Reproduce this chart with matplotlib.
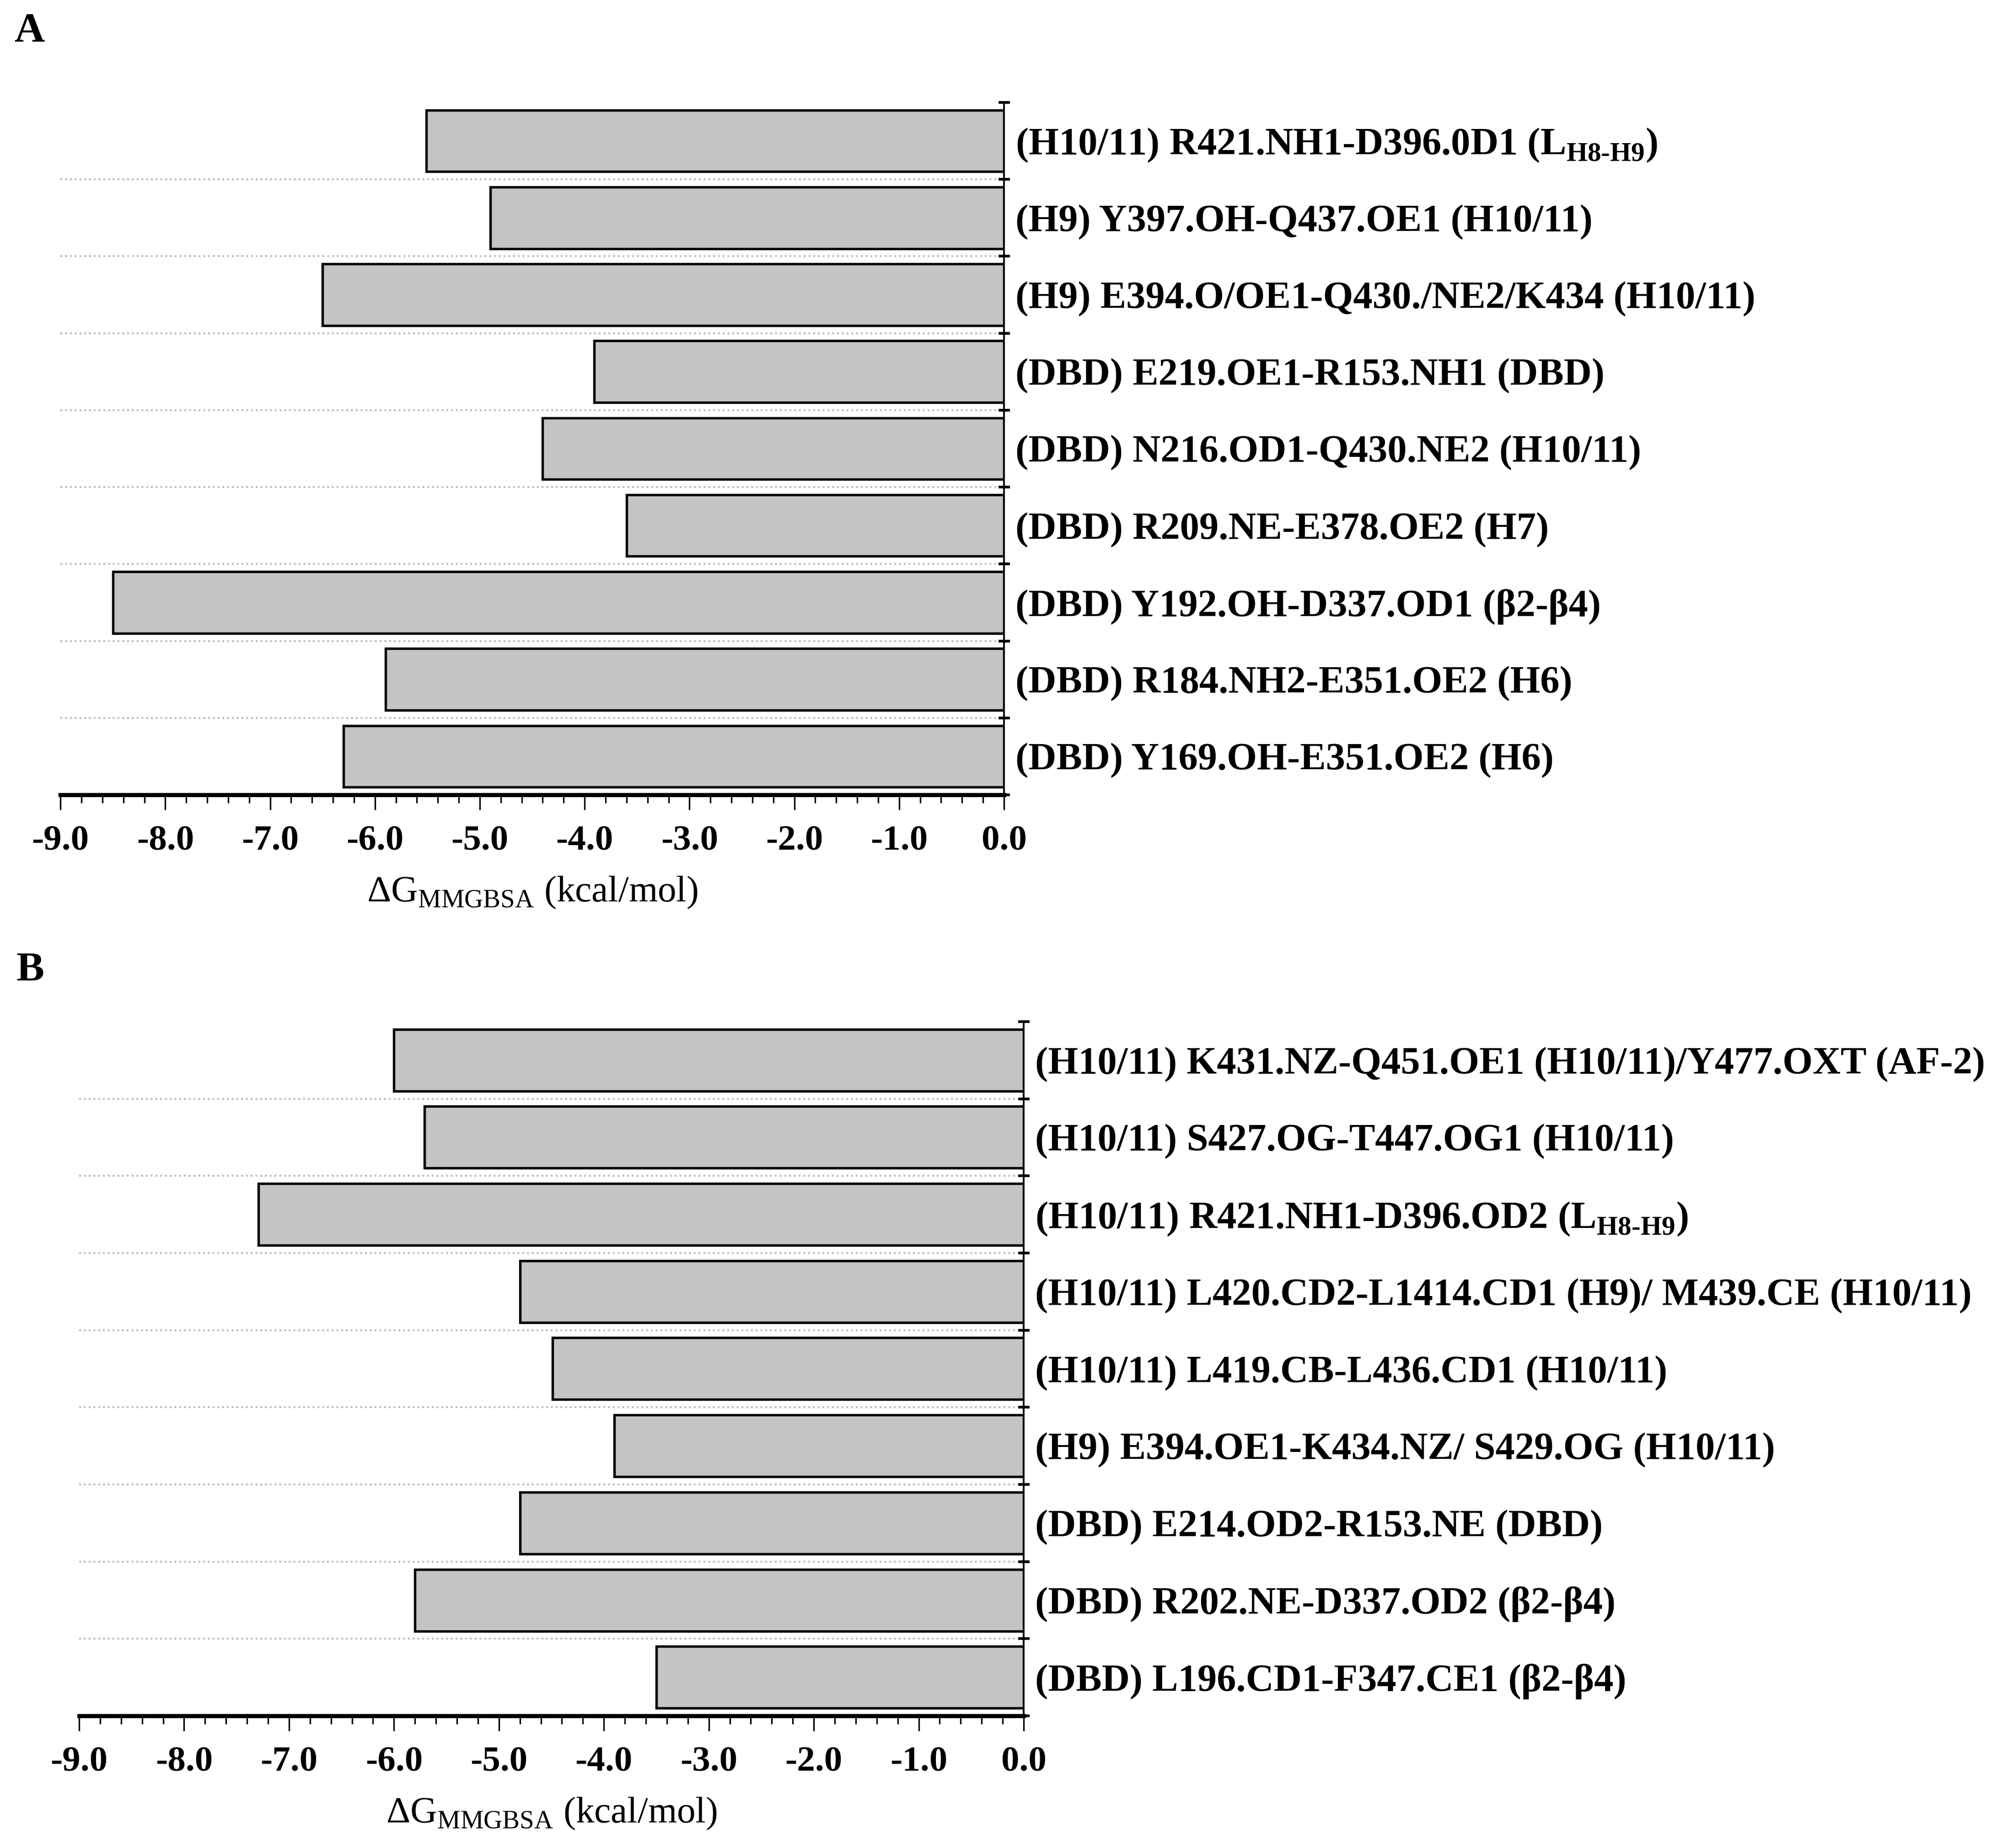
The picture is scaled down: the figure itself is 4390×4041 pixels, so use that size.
import matplotlib.pyplot as plt
import numpy as np
from matplotlib.ticker import MultipleLocator

plt.rcParams['font.family'] = 'Liberation Serif'
plt.rcParams['mathtext.fontset'] = 'custom'
plt.rcParams['mathtext.rm'] = 'Liberation Serif:bold'
plt.rcParams['mathtext.bf'] = 'Liberation Serif:bold'
plt.rcParams['mathtext.sf'] = 'Liberation Serif'

# panel A, top to bottom
labels_a = [
    "(H10/11) R421.NH1-D396.0D1 (L$_{\\text{H8-H9}}$)",
    "(H9) Y397.OH-Q437.OE1 (H10/11)",
    "(H9) E394.O/OE1-Q430./NE2/K434 (H10/11)",
    "(DBD) E219.OE1-R153.NH1 (DBD)",
    "(DBD) N216.OD1-Q430.NE2 (H10/11)",
    "(DBD) R209.NE-E378.OE2 (H7)",
    "(DBD) Y192.OH-D337.OD1 (β2-β4)",
    "(DBD) R184.NH2-E351.OE2 (H6)",
    "(DBD) Y169.OH-E351.OE2 (H6)",
]
values_a = [-5.51, -4.90, -6.50, -3.91, -4.40, -3.60, -8.50, -5.90, -6.30]

# panel B, top to bottom
labels_b = [
    "(H10/11) K431.NZ-Q451.OE1 (H10/11)/Y477.OXT (AF-2)",
    "(H10/11) S427.OG-T447.OG1 (H10/11)",
    "(H10/11) R421.NH1-D396.OD2 (L$_{\\text{H8-H9}}$)",
    "(H10/11) L420.CD2-L1414.CD1 (H9)/ M439.CE (H10/11)",
    "(H10/11) L419.CB-L436.CD1 (H10/11)",
    "(H9) E394.OE1-K434.NZ/ S429.OG (H10/11)",
    "(DBD) E214.OD2-R153.NE (DBD)",
    "(DBD) R202.NE-D337.OD2 (β2-β4)",
    "(DBD) L196.CD1-F347.CE1 (β2-β4)",
]
values_b = [-6.00, -5.71, -7.29, -4.80, -4.49, -3.90, -4.80, -5.80, -3.50]

xticks = np.arange(-9, 0.5, 1.0)
xlabel = "ΔG$_{\\mathsf{MMGBSA}}$ (kcal/mol)"

fig = plt.figure(figsize=(4390/300, 4041/300), dpi=300)


def draw_panel(rect, labels, values, letter, letter_xy):
    ax = fig.add_axes(rect)
    n = len(values)
    ypos = np.arange(n)
    ax.barh(ypos, values, height=0.8, color='#c4c4c4', edgecolor='black', linewidth=1.3, zorder=3)
    ax.set_xlim(-9, 0)
    ax.set_ylim(n - 0.5, -0.5)

    # dotted separators between rows
    for b in np.arange(0.5, n - 0.5, 1.0):
        ax.axhline(b, color='#bdbdbd', lw=1.0, ls=(0, (1, 1.5)), zorder=1)

    for s in ['top', 'left']:
        ax.spines[s].set_visible(False)
    ax.spines['bottom'].set_linewidth(2.2)
    ax.spines['right'].set_linewidth(0.9)
    ax.spines['right'].set_position(('data', 0))

    ax.set_xticks(xticks)
    ax.set_xticklabels(['%.1f' % v for v in xticks], fontweight='bold', fontsize=19)
    ax.xaxis.set_minor_locator(MultipleLocator(0.2))
    ax.tick_params(axis='x', which='major', direction='out', length=8, width=0.8, pad=8)
    ax.tick_params(axis='x', which='minor', direction='out', length=4.3, width=0.8)

    ax.yaxis.tick_right()
    ax.set_yticks(ypos)
    ax.set_yticklabels(labels, fontweight='bold', fontsize=20.3)
    ax.set_yticks(np.arange(-0.5, n, 1.0), minor=True)
    ax.tick_params(axis='y', which='major', length=0, pad=6)
    ax.tick_params(axis='y', which='minor', direction='inout', length=6, width=1.4)

    ax.set_xlabel(xlabel, fontsize=19.5, labelpad=9)
    fig.text(letter_xy[0], letter_xy[1], letter, fontsize=22, fontweight='bold')
    return ax


draw_panel([0.0301, 0.5699, 0.4699, 0.3747], labels_a, values_a, 'A', (0.0072, 0.9775))
draw_panel([0.0394, 0.0715, 0.4704, 0.3757], labels_b, values_b, 'B', (0.0080, 0.4692))

fig.savefig('out.png', dpi=300, facecolor='white')
